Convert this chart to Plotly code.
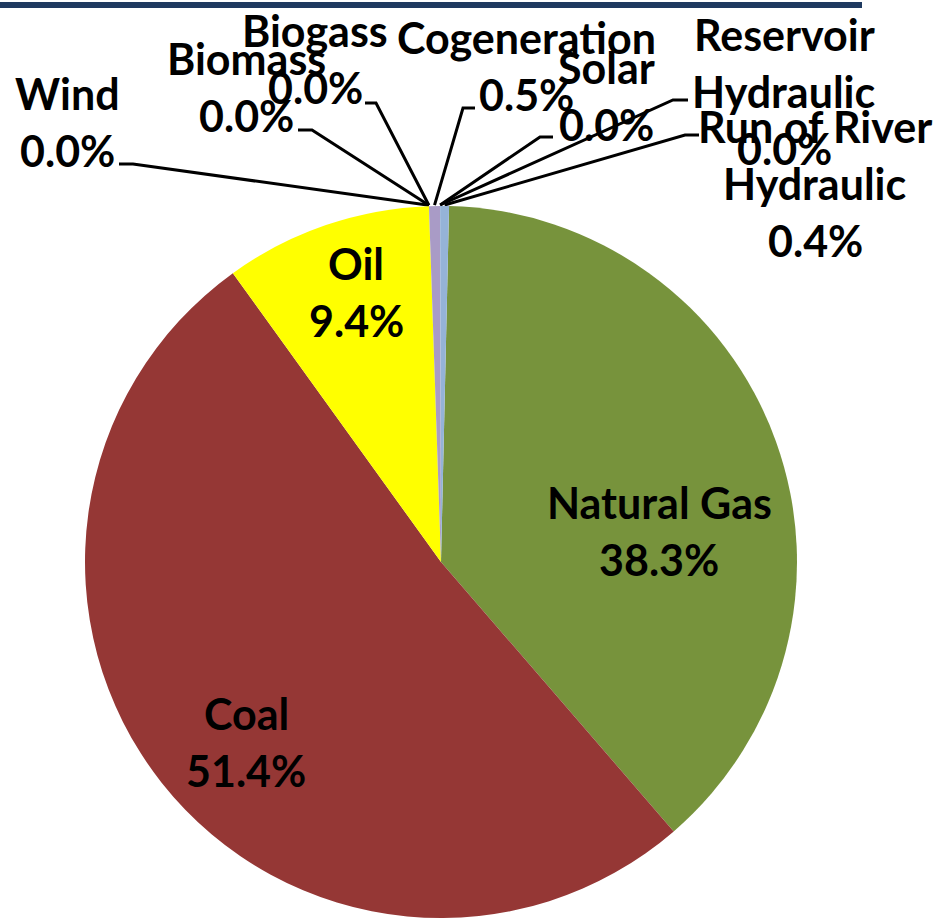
import math
import plotly.graph_objects as go

# ---------------- data ----------------
categories = ["Natural Gas", "Coal", "Oil", "Wind", "Biomass", "Biogass",
              "Cogeneration", "Solar", "Reservoir Hydraulic", "Run of River Hydraulic"]
shares = [38.3, 51.4, 9.4, 0.0, 0.0, 0.0, 0.5, 0.0, 0.0, 0.4]

# ---------------- style / layout ----------------
W, H = 951, 920
slice_colors = ["#77933C", "#953735", "#FFFF00", "#4F81BD", "#C0504D", "#9BBB59",
                "#A99BC6", "#4BACC6", "#F79646", "#95B3D7"]
line_breaks = {"Reservoir Hydraulic": ["Reservoir", "Hydraulic"],
               "Run of River Hydraulic": ["Run of River", "Hydraulic"]}
rotation = 1.3
cx, cy, r = 441, 562, 356          # pie centre / radius in pixels
FONT = dict(family="Lato", size=43, color="black", weight="bold")
LINE_STEP = 57

# label block centres (pixels) and leader ticks (label end -> bend)
label_pos = {
    "Natural Gas": (659, 531), "Coal": (246, 742), "Oil": (356, 292),
    "Wind": (67, 122), "Biomass": (246, 87), "Biogass": (315, 59),
    "Cogeneration": (526, 66), "Solar": (606, 96),
    "Reservoir Hydraulic": (784, 91), "Run of River Hydraulic": (815, 183),
}
leader_tick = {
    "Wind": ((119, 164), (133, 164)),
    "Biomass": ((298, 130), (312, 130)),
    "Biogass": ((365, 103), (376, 103)),
    "Cogeneration": ((475, 108), (463, 108)),
    "Solar": ((553, 137), (540, 137)),
    "Reservoir Hydraulic": ((688, 100), (673, 100)),
    "Run of River Hydraulic": ((699, 135), (685, 135)),
}

fig = go.Figure()

fig.add_trace(go.Pie(
    labels=categories, values=shares, sort=False, direction="clockwise",
    rotation=rotation, textinfo="none", hoverinfo="label+percent",
    marker=dict(colors=slice_colors, line=dict(width=0)),
    domain=dict(x=[(cx - r) / W, (cx + r) / W],
                y=[max(0, 1 - (cy + r) / H), 1 - (cy - r) / H]),
    showlegend=False,
))

# leader lines computed from the slice mid-angles
total = sum(shares)
cum = 0.0
for name, v in zip(categories, shares):
    mid = cum + v / 2
    cum += v
    if name not in leader_tick:
        continue
    ang = math.radians(rotation + 360 * mid / total)
    px = cx + (r + 1) * math.sin(ang)
    py = cy - (r + 1) * math.cos(ang)
    (x0, y0), (x1, y1) = leader_tick[name]
    fig.add_trace(go.Scatter(x=[x0, x1, px], y=[y0, y1, py], mode="lines",
                             line=dict(color="black", width=3),
                             hoverinfo="skip", showlegend=False))

# labels
annotations = []
for name, v in zip(categories, shares):
    lines = line_breaks.get(name, [name]) + [f"{v:.1f}%"]
    bx, by = label_pos[name]
    n = len(lines)
    for i, t in enumerate(lines):
        annotations.append(dict(
            x=bx, y=by + (i - (n - 1) / 2) * LINE_STEP, xref="x", yref="y",
            text=t, showarrow=False, font=FONT, xanchor="center", yanchor="middle"))

fig.update_layout(
    width=W, height=H,
    margin=dict(l=0, r=0, t=0, b=0),
    paper_bgcolor="white", plot_bgcolor="rgba(0,0,0,0)",
    xaxis=dict(range=[0, W], visible=False, fixedrange=True, domain=[0, 1]),
    yaxis=dict(range=[H, 0], visible=False, fixedrange=True, domain=[0, 1]),
    annotations=annotations,
    shapes=[dict(type="rect", xref="x", yref="y", x0=0, x1=862, y0=2, y1=8,
                 fillcolor="#1F3A60", line=dict(width=0), layer="above")],
)

fig.write_html("out.html",
               config={"displayModeBar": False},
               post_script="document.body.style.margin='0';document.body.style.padding='0';")
